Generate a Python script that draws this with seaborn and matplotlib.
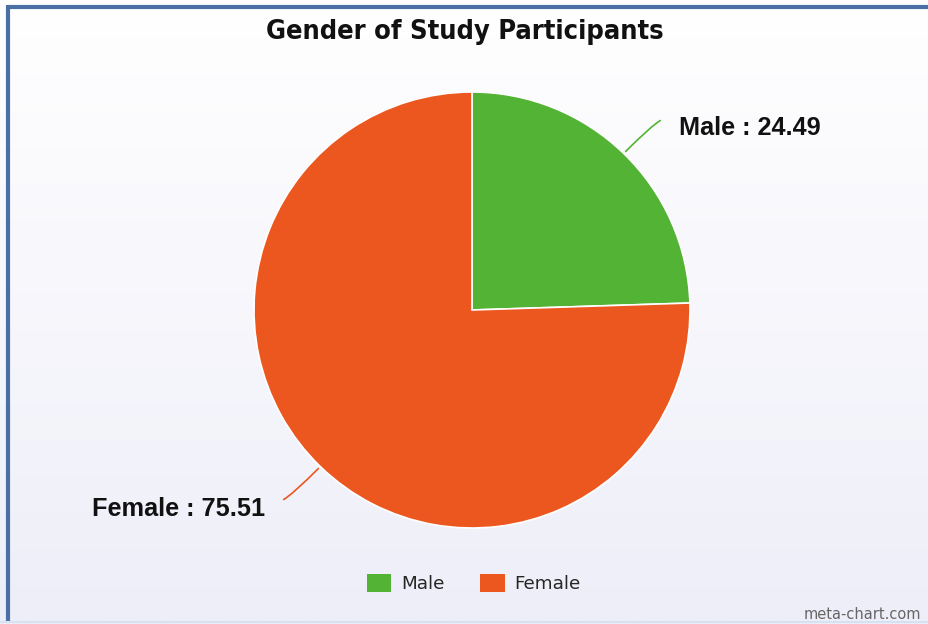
import numpy as np
import matplotlib
matplotlib.use("Agg")
import matplotlib.pyplot as plt
import seaborn as sns
from matplotlib import font_manager as fm
from matplotlib.patches import Patch
from matplotlib.lines import Line2D

sns.set_theme(style="white")

# data
genders = ["Male", "Female"]
shares = [24.49, 75.51]
colors = ["#52B335", "#EB571E"]
title = "Gender of Study Participants"
credit = "meta-chart.com"

label_font = fm.FontProperties(family=["Liberation Sans", "DejaVu Sans"],
                               weight="bold", size=18.2)

fig = plt.figure(figsize=(9.29, 6.24), dpi=100)

# background gradient
bg = fig.add_axes([0, 0, 1, 1], zorder=0)
grad = np.linspace(0, 1, 256).reshape(-1, 1)
top = np.array([1.0, 1.0, 1.0])
bot = np.array([0xEE, 0xEE, 0xF9]) / 255
img = top + (bot - top) * grad[..., None]
bg.imshow(img, aspect="auto", extent=[0, 1, 0, 1], origin="upper")
bg.set_axis_off()

# frame lines (top + left, faint bottom)
fig.add_artist(Line2D([0.0081, 1], [0.9895, 0.9895], transform=fig.transFigure,
                      color="#4A6FA5", lw=3, solid_capstyle="butt"))
fig.add_artist(Line2D([0.0081, 0.0081], [0.004, 0.992], transform=fig.transFigure,
                      color="#4A6FA5", lw=3, solid_capstyle="butt"))
fig.add_artist(Line2D([0.0, 1], [0.003, 0.003], transform=fig.transFigure,
                      color="#D6E2F2", lw=1.5))

# pie axes
ax = fig.add_axes([254 / 929, 96 / 624, 436 / 929, 436 / 624], zorder=2)
ax.set_facecolor("none")
wedges, _ = ax.pie(shares, colors=colors, startangle=90, counterclock=False,
                   radius=1, wedgeprops=dict(edgecolor="white", linewidth=1.2))
ax.set_xlim(-1, 1)
ax.set_ylim(-1, 1)
ax.set_aspect("equal")
ax.set_axis_off()

# labels with curved connectors
for w, name, val, col in zip(wedges, genders, shares, colors):
    ang = np.deg2rad((w.theta1 + w.theta2) / 2)
    ex, ey = np.cos(ang), np.sin(ang)
    sx = np.sign(ex)
    lx, ly = ex + sx * 0.18, ey + np.sign(ey) * 0.155
    ax.annotate("", xy=(ex, ey), xytext=(lx, ly),
                arrowprops=dict(arrowstyle="-", color=col, lw=1.2,
                                connectionstyle="angle3,angleA=0,angleB=45"),
                annotation_clip=False)
    ax.text(lx + sx * 0.075, ly - 0.04, f"{name} : {val}",
            ha="left" if sx > 0 else "right", va="center",
            fontproperties=label_font, color="#111111", clip_on=False)

fig.text(0.5, 0.948, title, ha="center", va="center", fontsize=19.5,
         fontweight="bold", family="DejaVu Sans", fontstretch="condensed",
         color="#111111")

handles = [Patch(facecolor=c, edgecolor="none", label=g) for g, c in zip(genders, colors)]
fig.legend(handles=handles, loc="center", bbox_to_anchor=(0.51, 0.065), ncol=2,
           frameon=False, prop={"family": "DejaVu Sans", "size": 13.2},
           handlelength=1.35, handleheight=1.15, handletextpad=0.55, columnspacing=1.9)

fig.text(0.991, 0.015, credit, ha="right", va="center", fontsize=10.5,
         family="DejaVu Sans", color="#666666")

fig.savefig("out.png", dpi=100)
